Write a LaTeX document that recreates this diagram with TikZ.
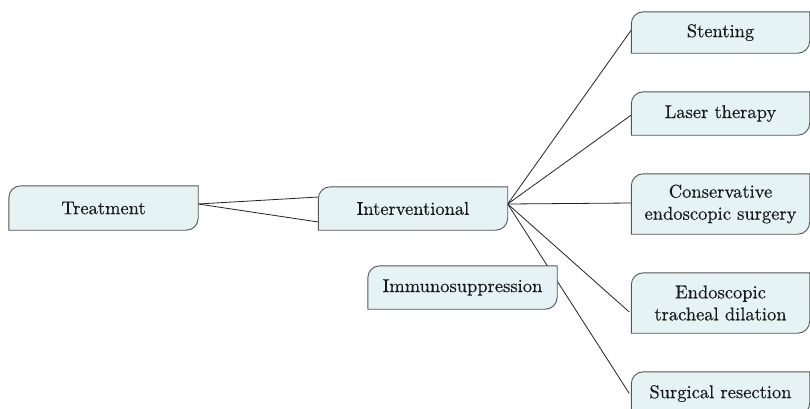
\documentclass[tikz,border=0pt]{standalone}
\usepackage{fontspec}
\setmainfont{lmroman10-regular}[Extension=.otf, FakeBold=0.4]
\usetikzlibrary{calc}
\pgfdeclarelayer{lines}
\pgfdeclarelayer{back}
\pgfsetlayers{lines,back,main}
\definecolor{leaffill}{HTML}{E5F3F4}
\definecolor{leafdraw}{HTML}{555555}
\definecolor{linkcol}{HTML}{222222}
\tikzset{
  leaf/.style={draw=none, fill=none, inner sep=0pt, align=center,
    text=black!90, font=\fontsize{18.5}{22}\selectfont},
  leafshape/.style={draw=leafdraw, fill=leaffill, line width=0.9pt},
  link/.style={draw=linkcol, line width=0.8pt},
}
\newcommand{\leafbox}[1]{%
  \begin{pgfonlayer}{back}
  \path[leafshape] (#1.south west) -- ([yshift=-12pt]#1.north west)
    arc[start angle=180,end angle=90,radius=12pt] -- (#1.north east)
    -- ([yshift=12pt]#1.south east)
    arc[start angle=0,end angle=-90,radius=12pt] -- cycle;
  \end{pgfonlayer}}
\begin{document}
\begin{tikzpicture}[x=1pt,y=-1pt]
\useasboundingbox (0,0) rectangle (810,408);
\node[leaf, minimum width=189pt, minimum height=44pt] (treat) at (103.5,208) {Treatment};
\node[leaf, minimum width=189pt, minimum height=43pt] (inter) at (413,208.5) {Interventional};
\node[leaf, minimum width=189pt, minimum height=43pt] (immu) at (462.5,287.5) {Immunosuppression};
\node[leaf, minimum width=178pt, minimum height=41pt] (stent) at (720.5,32.5) {Stenting};
\node[leaf, minimum width=178pt, minimum height=43pt] (laser) at (720.5,113.5) {Laser therapy};
\node[leaf, minimum width=178pt, minimum height=60pt] (cons) at (720.5,204) {Conservative\\endoscopic surgery};
\node[leaf, minimum width=178pt, minimum height=60pt] (endo) at (720.5,303) {Endoscopic\\tracheal dilation};
\node[leaf, minimum width=178pt, minimum height=43pt] (surg) at (720.5,393.5) {Surgical resection};
\foreach \n in {treat,inter,immu,stent,laser,cons,endo,surg}{\leafbox{\n}}
\coordinate (tout) at ($(treat.east)+(0,-4)$);
\coordinate (iout) at ($(inter.east)+(0,-4.5)$);
\begin{pgfonlayer}{lines}
\draw[link] (tout) -- ($(inter.west)+(0,-11.5)$);
\draw[link] (tout) -- ($(inter.west)+(0,13.5)$);
\draw[link] (iout) -- ($(stent.west)+(0,-2.5)$);
\draw[link] (iout) -- ($(laser.west)+(0,1.5)$);
\draw[link] (iout) -- ($(cons.west)+(0,-1)$);
\draw[link] (iout) -- ($(endo.west)+(-2,9)$);
\draw[link] (iout) -- ($(surg.west)+(-2,0)$);
\end{pgfonlayer}
\end{tikzpicture}
\end{document}
